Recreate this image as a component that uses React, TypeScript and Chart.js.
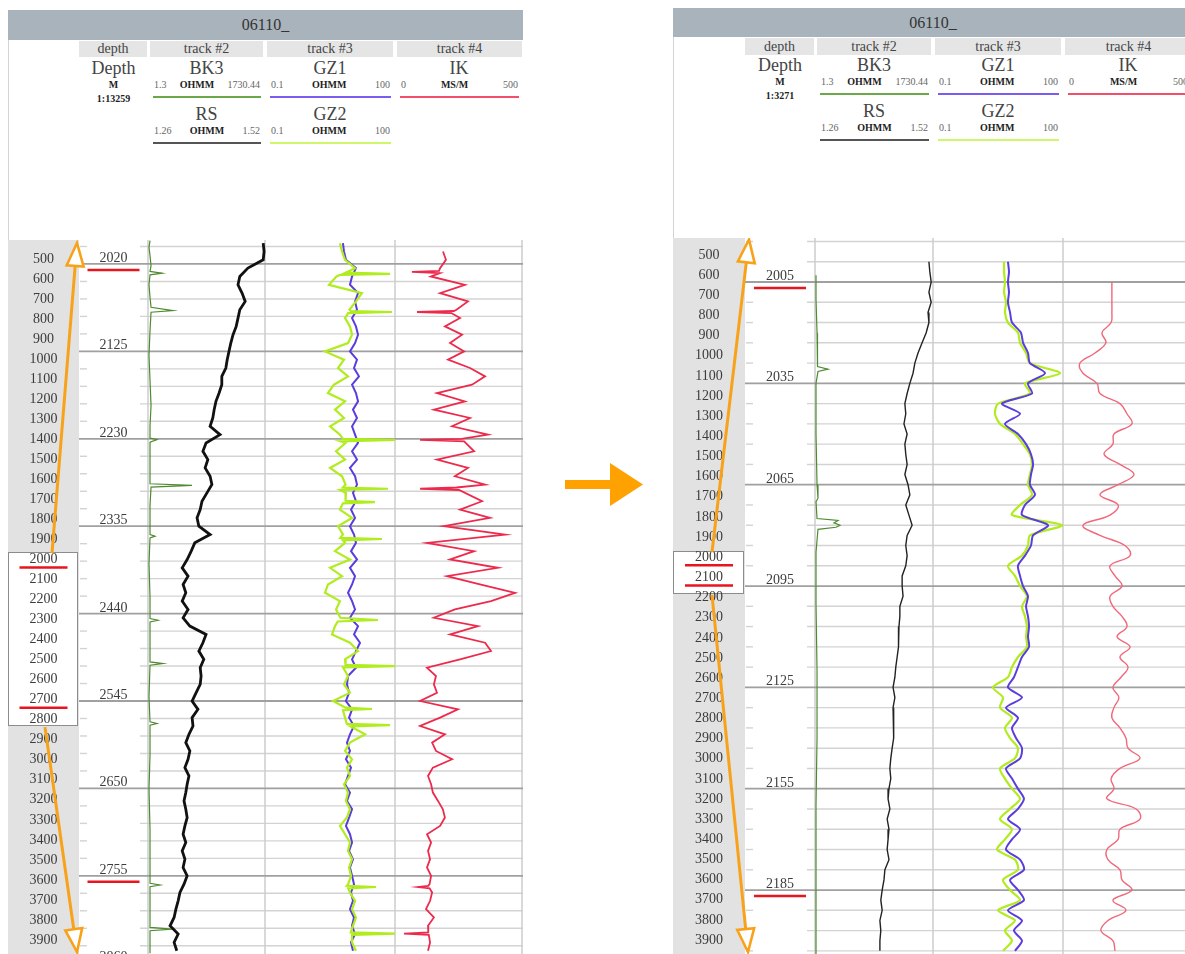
import React, { useEffect, useRef } from "react";
import { Chart, registerables } from "chart.js";

Chart.register(...registerables);

const FONT = '"Liberation Serif", "DejaVu Serif", serif';

// ---------- shared labels ----------
const TITLE = "06110_";
const TRACK_TITLES = ["depth", "track #2", "track #3", "track #4"];
const OVERVIEW_TICKS = [500, 600, 700, 800, 900, 1000, 1100, 1200, 1300, 1400, 1500, 1600, 1700, 1800, 1900, 2000, 2100, 2200, 2300, 2400, 2500, 2600, 2700, 2800, 2900, 3000, 3100, 3200, 3300, 3400, 3500, 3600, 3700, 3800, 3900];

// curve scale ranges
const BK3_RANGE = [1.3, 1730.44];
const RS_RANGE = [1.26, 1.52];
const GZ_RANGE = [0.1, 100];
const IK_RANGE = [0, 500];

// ---------- left panel data (scale 1:13259) ----------
const LEFT_DEPTH = [1995, 2005, 2015, 2025, 2035, 2045, 2055, 2065, 2075, 2085,
  2095, 2105, 2115, 2125, 2135, 2145, 2155, 2165, 2175, 2185,
  2195, 2205, 2215, 2225, 2235, 2245, 2255, 2265, 2275, 2285,
  2295, 2305, 2315, 2325, 2335, 2345, 2355, 2365, 2375, 2385,
  2395, 2405, 2415, 2425, 2435, 2445, 2455, 2465, 2475, 2485,
  2495, 2505, 2515, 2525, 2535, 2545, 2555, 2565, 2575, 2585,
  2595, 2605, 2615, 2625, 2635, 2645, 2655, 2665, 2675, 2685,
  2695, 2705, 2715, 2725, 2735, 2745, 2755, 2765, 2775, 2785,
  2795, 2805, 2815, 2825, 2835, 2845];
const LEFT_RS = [1.516, 1.518, 1.516, 1.482, 1.464, 1.460, 1.469, 1.476, 1.464, 1.460,
  1.456, 1.449, 1.444, 1.440, 1.436, 1.433, 1.424, 1.424, 1.418, 1.411,
  1.407, 1.404, 1.398, 1.420, 1.389, 1.382, 1.393, 1.387, 1.398, 1.402,
  1.391, 1.380, 1.376, 1.369, 1.373, 1.398, 1.364, 1.356, 1.347, 1.336,
  1.349, 1.338, 1.344, 1.336, 1.349, 1.338, 1.353, 1.389, 1.382, 1.373,
  1.384, 1.376, 1.378, 1.376, 1.367, 1.358, 1.371, 1.358, 1.360, 1.351,
  1.344, 1.353, 1.349, 1.342, 1.351, 1.347, 1.344, 1.340, 1.344, 1.347,
  1.342, 1.338, 1.344, 1.336, 1.342, 1.338, 1.347, 1.340, 1.331, 1.327,
  1.322, 1.318, 1.309, 1.327, 1.318, 1.324];
const LEFT_GZ1 = [60.0, 60.8, 62.3, 70.0, 67.0, 65.4, 71.6, 69.3, 70.8, 67.0,
  70.0, 71.6, 69.3, 65.4, 70.8, 68.5, 72.3, 67.0, 70.0, 71.6,
  67.7, 70.8, 67.0, 69.3, 71.6, 67.0, 70.8, 65.4, 69.3, 70.8,
  67.7, 70.0, 66.2, 69.3, 65.4, 68.5, 70.0, 66.2, 70.8, 65.4,
  69.3, 67.0, 63.9, 67.0, 69.3, 65.4, 71.6, 68.5, 73.1, 70.0,
  67.0, 70.0, 63.9, 63.1, 64.7, 62.3, 67.0, 64.7, 68.5, 65.4,
  63.1, 65.4, 62.3, 66.2, 63.9, 61.6, 65.4, 63.1, 67.0, 64.7,
  62.3, 65.4, 67.0, 64.7, 67.7, 65.4, 67.0, 68.5, 66.2, 67.7,
  65.4, 68.5, 67.0, 69.3, 66.2, 67.7];
const LEFT_GZ2_DEPTH = [1995, 2005, 2015, 2025, 2030.5, 2031.8, 2033, 2035, 2045, 2055,
  2065, 2075, 2076.5, 2077.7, 2079, 2085, 2095, 2105, 2115, 2125,
  2135, 2145, 2155, 2165, 2175, 2185, 2195, 2205, 2215, 2225,
  2230, 2231.4, 2233, 2235, 2245, 2255, 2265, 2275, 2285, 2288.5,
  2290, 2291.5, 2295, 2304.5, 2306, 2307.5, 2315, 2325, 2335, 2345,
  2349, 2350.4, 2352, 2355, 2365, 2375, 2385, 2395, 2405, 2415,
  2425, 2435, 2445, 2447.7, 2449.5, 2455, 2465, 2475, 2485, 2495,
  2501.5, 2503, 2504.5, 2515, 2525, 2535, 2545, 2553, 2554.6, 2556,
  2565, 2572.5, 2574, 2575.5, 2585, 2595, 2605, 2615, 2625, 2635,
  2645, 2655, 2665, 2675, 2685, 2695, 2705, 2715, 2725, 2735,
  2745, 2755, 2765, 2767, 2768.4, 2770, 2775, 2785, 2795, 2805,
  2815, 2823, 2824.4, 2826, 2835, 2845];
const LEFT_GZ2 = [57.7, 59.3, 61.6, 69.3, 62, 96.2, 58, 55, 49.3, 74.6,
  70.0, 65, 66, 97.7, 64, 61.6, 65.4, 67.0, 63.9, 46.2,
  60.8, 56.2, 63.9, 53.1, 48.5, 61.6, 53.9, 60.8, 50.1, 57.7,
  60, 100, 58, 62, 54.7, 61.6, 50.1, 59.3, 62, 60,
  94.6, 58, 62.3, 62, 84.6, 60, 57.7, 67.0, 56.2, 60,
  58, 90, 60, 61.6, 53.9, 65.4, 50.1, 59.3, 48.5, 46.2,
  57.7, 54.7, 58, 86.9, 56, 53.9, 51.6, 65.4, 71.6, 61.6,
  62, 100, 60, 63.9, 60.8, 65.4, 52.4, 62, 82.3, 60,
  61.6, 63, 96.2, 66, 77.0, 65.4, 61.6, 67.0, 63.1, 65.4,
  60.8, 63.9, 62.3, 65.4, 63.1, 57.7, 61.6, 65.4, 63.9, 67.0,
  64.7, 66.2, 64, 63, 85.4, 64, 65.4, 69.3, 67.0, 70.0,
  67.7, 66, 100, 67, 67.0, 70.0];
const LEFT_IK_DEPTH = [2005, 2015, 2025, 2028.3, 2029.6, 2031, 2035, 2045, 2055, 2065,
  2075, 2076.5, 2077.7, 2079, 2085, 2095, 2105, 2115, 2125, 2135,
  2145, 2155, 2165, 2175, 2185, 2195, 2205, 2215, 2225, 2230,
  2231.4, 2233, 2245, 2255, 2265, 2275, 2285, 2288.5, 2290, 2291.5,
  2305, 2315, 2325, 2335, 2345, 2355, 2365, 2375, 2385, 2395,
  2405, 2415, 2425, 2435, 2445, 2455, 2465, 2475, 2485, 2495,
  2505, 2515, 2525, 2535, 2545, 2555, 2565, 2575, 2585, 2595,
  2605, 2615, 2625, 2635, 2645, 2655, 2665, 2675, 2685, 2695,
  2705, 2715, 2725, 2735, 2745, 2755, 2765, 2767, 2768.4, 2770,
  2775, 2785, 2795, 2805, 2815, 2823, 2824.4, 2826, 2835, 2845];
const LEFT_IK = [187.5, 199, 176, 172, 66, 175, 140, 273, 176, 285,
  240, 230, 86, 220, 254, 195, 262, 215, 270, 207,
  293, 352, 301, 164, 273, 152, 293, 223, 363, 260,
  98, 270, 309, 164, 285, 234, 352, 240, 98, 250,
  340, 254, 371, 191, 430, 125, 309, 215, 402, 203,
  332, 469, 375, 234, 152, 324, 215, 352, 375, 254,
  125, 160, 152, 164, 98, 246, 176, 98, 195, 145,
  160, 223, 148, 129, 141, 148, 168, 187, 195, 176,
  125, 141, 129, 137, 125, 141, 135, 130, 90, 135,
  145, 137, 121, 152, 129, 130, 35, 132, 137, 129];
const LEFT_BK3_DEPTH = [1992, 2000, 2010, 2022, 2029, 2031, 2033, 2045, 2060, 2072, 2076, 2078, 2100, 2130, 2160, 2190, 2215, 2229, 2231, 2234, 2260, 2284, 2286, 2288, 2310, 2345, 2347, 2349, 2380, 2420, 2446, 2448, 2450, 2480, 2498, 2500, 2502, 2540, 2570, 2572, 2574, 2610, 2650, 2700, 2764, 2766, 2768, 2800, 2817, 2819, 2821, 2848];
const LEFT_BK3 = [31, 16, 31, 46, 31, 208, 31, 16, 31, 46, 371, 46, 31, 16, 31, 46, 31, 31, 134, 31, 31, 31, 652, 46, 31, 31, 105, 31, 16, 31, 31, 149, 31, 31, 31, 223, 31, 16, 31, 134, 31, 31, 16, 31, 31, 179, 31, 31, 31, 356, 31, 31];
const LEFT_MAJORS = [2020, 2125, 2230, 2335, 2440, 2545, 2650, 2755, 2860];
const LEFT_WINDOW = [1963, 2827];
const LEFT_DEPTH_MARKS = [2020, 2755];
const LEFT_OVERVIEW_MARKS = [2000, 2700];

// ---------- right panel data (scale 1:3271) ----------
const RIGHT_DEPTH = [1993, 1996, 1999, 2002, 2005, 2008, 2011, 2014, 2017, 2020,
  2023, 2026, 2029, 2032, 2035, 2038, 2041, 2044, 2047, 2050,
  2053, 2056, 2059, 2062, 2065, 2068, 2071, 2074, 2077, 2080,
  2083, 2086, 2089, 2092, 2095, 2098, 2101, 2104, 2107, 2110,
  2113, 2116, 2119, 2122, 2125, 2128, 2131, 2134, 2137, 2140,
  2143, 2146, 2149, 2152, 2155, 2158, 2161, 2164, 2167, 2170,
  2173, 2176, 2179, 2182, 2185, 2188, 2191, 2194, 2197, 2200,
  2203];
const RIGHT_RS = [null, null, 1.511, 1.513, 1.516, 1.511, 1.516, 1.509, 1.511, 1.505,
  1.496, 1.487, 1.480, 1.476, 1.469, 1.463, 1.458, 1.460, 1.456, 1.463,
  1.458, 1.460, 1.463, 1.458, 1.465, 1.469, 1.460, 1.467, 1.474, 1.463,
  1.460, 1.463, 1.460, 1.452, 1.452, 1.454, 1.447, 1.447, 1.445, 1.445,
  1.443, 1.441, 1.438, 1.436, 1.432, 1.436, 1.432, 1.434, 1.432, 1.434,
  1.430, 1.427, 1.425, 1.427, 1.423, 1.421, 1.425, 1.419, 1.423, 1.421,
  1.419, 1.423, 1.414, 1.412, 1.408, 1.405, 1.408, 1.403, 1.405, 1.403,
  1.403];
const RIGHT_GZ1 = [null, null, 57.7, 58.5, 57.7, 58.5, 57.7, 59.3, 60.8, 67.7,
  69.3, 73.1, 74.6, 86.2, 73.1, 76.2, 53.1, 67.0, 55.4, 65.4,
  71.6, 75.4, 77.0, 75.4, 74.6, 78.5, 70.8, 68.5, 88.5, 77.0,
  75.4, 70.8, 65.4, 67.0, 69.3, 73.1, 71.6, 73.1, 73.9, 73.1,
  73.9, 68.5, 65.4, 62.3, 57.7, 68.5, 56.2, 65.4, 60.8, 63.9,
  68.5, 67.0, 56.2, 60.8, 65.4, 70.0, 65.4, 57.7, 67.0, 60.8,
  56.2, 67.0, 70.0, 59.3, 65.4, 70.0, 57.7, 68.5, 62.3, 68.5,
  63.1];
const RIGHT_GZ2 = [null, null, 54.7, 54.7, 55.4, 54.7, 56.2, 55.4, 57.7, 65.4,
  67.0, 71.6, 74.6, 97.7, 70.8, 74.6, 50.1, 47.7, 51.6, 63.1,
  69.3, 74.6, 76.2, 74.6, 73.1, 76.2, 67.0, 60.8, 99.2, 74.6,
  73.1, 68.5, 57.7, 63.1, 67.0, 72.3, 68.5, 70.8, 72.3, 71.6,
  72.3, 65.4, 60.8, 57.7, 46.2, 53.9, 51.6, 60.8, 55.4, 59.3,
  65.4, 63.1, 51.6, 55.4, 60.8, 67.0, 59.3, 51.6, 60.8, 55.4,
  49.3, 63.1, 65.4, 53.9, 59.3, 67.0, 50.1, 63.1, 55.4, 60.8,
  53.9];
const RIGHT_IK = [null, null, null, null, 188, 188, 188, 188, 185, 150,
  165, 123, 65, 77, 131, 142, 219, 246, 265, 196,
  192, 158, 219, 273, 212, 142, 212, 181, 77, 142,
  238, 258, 181, 200, 227, 181, 192, 227, 246, 208,
  258, 219, 250, 223, 192, 215, 196, 188, 219, 242,
  250, 296, 219, 185, 196, 169, 281, 296, 219, 212,
  169, 173, 219, 227, 265, 192, 242, 173, 146, 192,
  200];
const RIGHT_BK3_DEPTH = [2003, 2010, 2020, 2028, 2030, 2030.8, 2031.5, 2035, 2050, 2065, 2069, 2070, 2075, 2075.6, 2076.3, 2077, 2077.6, 2078.2, 2085, 2100, 2120, 2140, 2160, 2180, 2204];
const RIGHT_BK3 = [16, 16, 31, 31, 45, 192, 45, 16, 16, 31, 45, 16, 31, 338, 280, 368, 309, 45, 16, 16, 31, 31, 16, 16, 16];
const RIGHT_MAJORS = [2005, 2035, 2065, 2095, 2125, 2155, 2185];
const RIGHT_WINDOW = [1969, 2177];
const RIGHT_DEPTH_MARKS = [2005, 2185];
const RIGHT_OVERVIEW_MARKS = [2000, 2100];

// ---------- styling ----------
const BAR_BG = "#a8b3bc";
const ROW_BG = "#e5e5e5";
const OVERVIEW_BG = "#e2e2e2";
const ORANGE = "#f8a21a";
const RED_MARK = "#e8141e";
const C_BK3 = "#4e8a30";
const C_GZ1 = "#5a3ddc";
const C_GZ2 = "#b0ec1e";
const L_BK3 = "#6aa84a";
const L_RS = "#555555";
const L_GZ1 = "#7b5cf0";
const L_GZ2 = "#cff76a";
const L_IK = "#f2506a";

const LEGENDS = [
  { track: 1, row: 0, name: "BK3", lo: "1.3", unit: "OHMM", hi: "1730.44", color: L_BK3 },
  { track: 1, row: 1, name: "RS", lo: "1.26", unit: "OHMM", hi: "1.52", color: L_RS },
  { track: 2, row: 0, name: "GZ1", lo: "0.1", unit: "OHMM", hi: "100", color: L_GZ1 },
  { track: 2, row: 1, name: "GZ2", lo: "0.1", unit: "OHMM", hi: "100", color: L_GZ2 },
  { track: 3, row: 0, name: "IK", lo: "0", unit: "MS/M", hi: "500", color: L_IK },
];

const LEFT_CFG = {
  left: 8, barTop: 10, barH: 30, rowTop: 41, rowH: 16, dy: 0, plotTop: 240,
  edges: [79, 148, 265, 395, 523], scaleText: "1:13259",
  depthRange: [1991.2, 2848.9], overviewRange: [405.1, 3969.8],
  window: LEFT_WINDOW, majors: LEFT_MAJORS, minorStep: 21,
  depthMarks: LEFT_DEPTH_MARKS, overviewMarks: LEFT_OVERVIEW_MARKS,
  arrows: [[44, 0, 69, 3], [37, 1, 69, 712]],
  depth: LEFT_DEPTH, rs: LEFT_RS, gz1: LEFT_GZ1,
  gz2Depth: LEFT_GZ2_DEPTH, gz2: LEFT_GZ2, ikDepth: LEFT_IK_DEPTH, ik: LEFT_IK,
  bk3Depth: LEFT_BK3_DEPTH, bk3: LEFT_BK3,
  rsColor: "#111111", rsWidth: 2.8,
  ikColor: "#ee2a4c", ikWidth: 1.8, tension: 0, ikTension: 0, purpleOnTop: false,
};

const RIGHT_CFG = {
  left: 673, barTop: 8, barH: 29, rowTop: 38, rowH: 17, dy: -3, plotTop: 238,
  edges: [745, 815, 933, 1063, 1193], scaleText: "1:3271",
  depthRange: [1991.97, 2203.93], overviewRange: [415.6, 3968.9],
  window: RIGHT_WINDOW, majors: RIGHT_MAJORS, minorStep: 6,
  depthMarks: RIGHT_DEPTH_MARKS, overviewMarks: RIGHT_OVERVIEW_MARKS,
  arrows: [[39, 0, 76, 1.5], [39, 1, 75, 714]],
  depth: RIGHT_DEPTH, rs: RIGHT_RS, gz1: RIGHT_GZ1,
  gz2Depth: RIGHT_DEPTH, gz2: RIGHT_GZ2, ikDepth: RIGHT_DEPTH, ik: RIGHT_IK,
  bk3Depth: RIGHT_BK3_DEPTH, bk3: RIGHT_BK3,
  rsColor: "#222222", rsWidth: 1.4,
  ikColor: "#f0687a", ikWidth: 1.4, tension: 0.25, ikTension: 0.4, purpleOnTop: true,
};

// ---------- helpers ----------
function bandAxis(range: number[], a: number, b: number, W: number) {
  const per = (range[1] - range[0]) / (b - a);
  return { type: "linear", display: false, min: range[0] - a * per, max: range[0] + (W - a) * per };
}

function seg(ctx: CanvasRenderingContext2D, x1: number, y1: number, x2: number, y2: number) {
  ctx.beginPath();
  ctx.moveTo(x1, y1);
  ctx.lineTo(x2, y2);
  ctx.stroke();
}

function arrow(ctx: CanvasRenderingContext2D, x1: number, y1: number, x2: number, y2: number) {
  const dx = x2 - x1, dy = y2 - y1, len = Math.hypot(dx, dy);
  const ux = dx / len, uy = dy / len;
  const hl = 23, hw = 8.5;
  const bx = x2 - ux * hl, by = y2 - uy * hl;
  ctx.strokeStyle = ORANGE;
  ctx.lineWidth = 3;
  ctx.lineCap = "butt";
  seg(ctx, x1, y1, bx, by);
  ctx.beginPath();
  ctx.moveTo(x2, y2);
  ctx.lineTo(bx - uy * hw, by + ux * hw);
  ctx.lineTo(bx + uy * hw, by - ux * hw);
  ctx.closePath();
  ctx.fillStyle = "#ffffff";
  ctx.fill();
  ctx.lineWidth = 2.6;
  ctx.lineJoin = "miter";
  ctx.stroke();
}

function pts(depths: number[], vals: (number | null)[]) {
  const out: { x: number; y: number }[] = [];
  depths.forEach((d, i) => {
    const v = vals[i];
    if (v !== null && v !== undefined) out.push({ x: v, y: d });
  });
  return out;
}

function LogChart({ cfg }: { cfg: any }) {
  const ref = useRef<HTMLCanvasElement>(null);
  const W = cfg.edges[4] - cfg.left;
  const H = 954 - cfg.plotTop;
  useEffect(() => {
    const canvas = ref.current;
    if (!canvas) return;
    const r = cfg.edges.map((e: number) => e - cfg.left);
    const plugin = {
      id: "wellLog" + cfg.left,
      beforeDatasetsDraw(chart: any) {
        const ctx: CanvasRenderingContext2D = chart.ctx;
        const ys = chart.scales.y;
        const yo = chart.scales.yo;
        ctx.save();
        ctx.fillStyle = OVERVIEW_BG;
        ctx.fillRect(0, 0, r[0], H);
        const w0 = yo.getPixelForValue(cfg.window[0]);
        const w1 = yo.getPixelForValue(cfg.window[1]);
        ctx.fillStyle = "#ffffff";
        ctx.fillRect(0.5, w0, r[0] - 2, w1 - w0);
        ctx.strokeStyle = "#8c8c8c";
        ctx.lineWidth = 1;
        ctx.strokeRect(0.5, Math.round(w0) + 0.5, r[0] - 2, Math.round(w1 - w0));
        const oc = r[0] / 2;
        ctx.font = `14px ${FONT}`;
        ctx.fillStyle = "#3c3c3c";
        ctx.textAlign = "center";
        ctx.textBaseline = "middle";
        OVERVIEW_TICKS.forEach((t) => ctx.fillText(String(t), oc, yo.getPixelForValue(t)));
        ctx.strokeStyle = RED_MARK;
        ctx.lineWidth = 2.5;
        cfg.overviewMarks.forEach((m: number) => {
          const p = yo.getPixelForValue(m) + 8;
          seg(ctx, oc - 24, p, oc + 24, p);
        });
        const base = cfg.majors[0];
        const kStart = Math.ceil((cfg.depthRange[0] - base) / cfg.minorStep);
        const kEnd = Math.floor((cfg.depthRange[1] - base) / cfg.minorStep);
        ctx.strokeStyle = "#d3d3d3";
        ctx.lineWidth = 1.4;
        for (let k = kStart; k <= kEnd; k++) {
          if (((k % 5) + 5) % 5 === 0) continue;
          const p = ys.getPixelForValue(base + k * cfg.minorStep);
          seg(ctx, r[1] - 8, p, W, p);
          seg(ctx, r[0] + 1, p, r[0] + 8, p);
        }
        ctx.strokeStyle = "#cdcdcd";
        ctx.lineWidth = 1.5;
        for (let i = 1; i < r.length; i++) {
          const x = Math.min(r[i], W - 1);
          seg(ctx, x, 0, x, H);
        }
        ctx.strokeStyle = "#a0a0a0";
        ctx.lineWidth = 1.8;
        cfg.majors.forEach((m: number) => {
          const p = ys.getPixelForValue(m);
          seg(ctx, r[0], p, W, p);
        });
        const dc = (r[0] + r[1]) / 2;
        ctx.fillStyle = "#3c3c3c";
        ctx.textBaseline = "alphabetic";
        cfg.majors.forEach((m: number) => ctx.fillText(String(m), dc, ys.getPixelForValue(m) - 2));
        ctx.strokeStyle = RED_MARK;
        ctx.lineWidth = 2.5;
        cfg.depthMarks.forEach((m: number) => {
          const p = ys.getPixelForValue(m) + 6;
          seg(ctx, dc - 26, p, dc + 26, p);
        });
        cfg.arrows.forEach((a: number[]) => {
          const sy = a[1] === 0 ? w0 + 1 : w1 + 2;
          arrow(ctx, a[0], sy, a[2], a[3]);
        });
        ctx.restore();
      },
    };
    const line = (data: any[], axis: string, color: string, width: number, order: number, tension: number) => ({
      data, xAxisID: axis, yAxisID: "y", borderColor: color, backgroundColor: color,
      borderWidth: width, pointRadius: 0, pointHitRadius: 0, tension, order, fill: false,
    });
    const chart = new Chart(canvas, {
      type: "line",
      data: {
        datasets: [
          line(pts(cfg.bk3Depth, cfg.bk3), "xBK3", C_BK3, 1.2, 5, 0),
          line(pts(cfg.depth, cfg.rs), "xRS", cfg.rsColor, cfg.rsWidth, 4, 0),
          line(pts(cfg.depth, cfg.gz1), "xGZ", C_GZ1, 2, cfg.purpleOnTop ? 1 : 3, cfg.tension),
          line(pts(cfg.gz2Depth, cfg.gz2), "xGZ", C_GZ2, 2.2, cfg.purpleOnTop ? 3 : 1, cfg.tension),
          line(pts(cfg.ikDepth, cfg.ik), "xIK", cfg.ikColor, cfg.ikWidth, 2, cfg.ikTension),
        ],
      },
      options: {
        animation: false,
        responsive: false,
        maintainAspectRatio: false,
        indexAxis: "y",
        events: [],
        layout: { padding: 0 },
        plugins: { legend: { display: false }, tooltip: { enabled: false } },
        scales: {
          y: { type: "linear", display: false, reverse: true, min: cfg.depthRange[0], max: cfg.depthRange[1] },
          yo: { type: "linear", display: false, reverse: true, min: cfg.overviewRange[0], max: cfg.overviewRange[1] },
          xBK3: bandAxis(BK3_RANGE, r[1], r[2], W),
          xRS: bandAxis(RS_RANGE, r[1], r[2], W),
          xGZ: bandAxis(GZ_RANGE, r[2], r[3], W),
          xIK: bandAxis(IK_RANGE, r[3], r[4], W),
        },
      } as any,
      plugins: [plugin],
    } as any);
    return () => chart.destroy();
  }, []);
  return (
    <canvas
      ref={ref}
      width={W}
      height={H}
      style={{ position: "absolute", left: cfg.left, top: cfg.plotTop, width: W, height: H }}
    />
  );
}

function T({ x, y, size, bold, color, children }: any) {
  const w = 200;
  return (
    <div style={{
      position: "absolute", left: x - w / 2, top: y - size * 0.6, width: w, textAlign: "center",
      fontSize: size, lineHeight: `${size * 1.2}px`, fontWeight: bold ? 700 : 400, color,
      fontFamily: FONT, whiteSpace: "nowrap",
    }}>{children}</div>
  );
}

function Header({ cfg }: { cfg: any }) {
  const e = cfg.edges;
  const dy = cfg.dy;
  const barW = e[4] - cfg.left;
  const cells = [[e[0], e[1] - 1], [e[1] + 2, e[2] - 2], [e[2] + 2, e[3] - 2], [e[3] + 2, e[4] - 1]];
  const dc = (e[0] + e[1]) / 2;
  return (
    <>
      <div style={{
        position: "absolute", left: cfg.left, top: cfg.barTop, width: barW, height: cfg.barH,
        background: BAR_BG, color: "#333", fontFamily: FONT, fontSize: 16,
        lineHeight: `${cfg.barH}px`, textAlign: "center",
      }}>{TITLE}</div>
      <div style={{ position: "absolute", left: cfg.left, top: cfg.barTop + cfg.barH, width: 1, height: cfg.plotTop - cfg.barTop - cfg.barH, background: "#d4d4d4" }} />
      {cells.map((c, i) => (
        <div key={i} style={{
          position: "absolute", left: c[0], top: cfg.rowTop, width: c[1] - c[0], height: cfg.rowH,
          background: ROW_BG, color: "#444", fontFamily: FONT, fontSize: 14,
          lineHeight: `${cfg.rowH}px`, textAlign: "center", whiteSpace: "nowrap", overflow: "hidden",
        }}>{TRACK_TITLES[i]}</div>
      ))}
      <T x={dc} y={69 + dy} size={18} color="#444">Depth</T>
      <T x={dc} y={85 + dy} size={10} bold color="#222">M</T>
      <T x={dc} y={99 + dy} size={10} bold color="#222">{cfg.scaleText}</T>
      {LEGENDS.map((g, i) => {
        const a = e[g.track], b = e[g.track + 1];
        const oy = g.row * 46;
        return (
          <React.Fragment key={i}>
            <T x={(a + b) / 2} y={69 + dy + oy} size={18} color="#444">{g.name}</T>
            <div style={{
              position: "absolute", left: a + 6, width: b - a - 11, top: 85 + dy + oy - 6, height: 12,
              display: "flex", justifyContent: "space-between", fontFamily: FONT, fontSize: 10,
              lineHeight: "12px", color: "#666", whiteSpace: "nowrap",
            }}>
              <span>{g.lo}</span>
              <span style={{ fontWeight: 700, color: "#222" }}>{g.unit}</span>
              <span>{g.hi}</span>
            </div>
            <div style={{ position: "absolute", left: a + 5, width: b - a - 9, top: 96 + dy + oy, height: 2, background: g.color }} />
          </React.Fragment>
        );
      })}
    </>
  );
}

export default function App() {
  return (
    <div style={{ position: "fixed", left: 0, top: 0, width: 1185, height: 954, overflow: "hidden", background: "#ffffff" }}>
      <Header cfg={LEFT_CFG} />
      <Header cfg={RIGHT_CFG} />
      <LogChart cfg={LEFT_CFG} />
      <LogChart cfg={RIGHT_CFG} />
      <svg width={90} height={52} style={{ position: "absolute", left: 560, top: 458 }}>
        <rect x={5} y={22} width={50} height={9} fill="#ffa100" />
        <polygon points="50,5 83,26.5 50,48" fill="#ffa100" />
      </svg>
    </div>
  );
}
